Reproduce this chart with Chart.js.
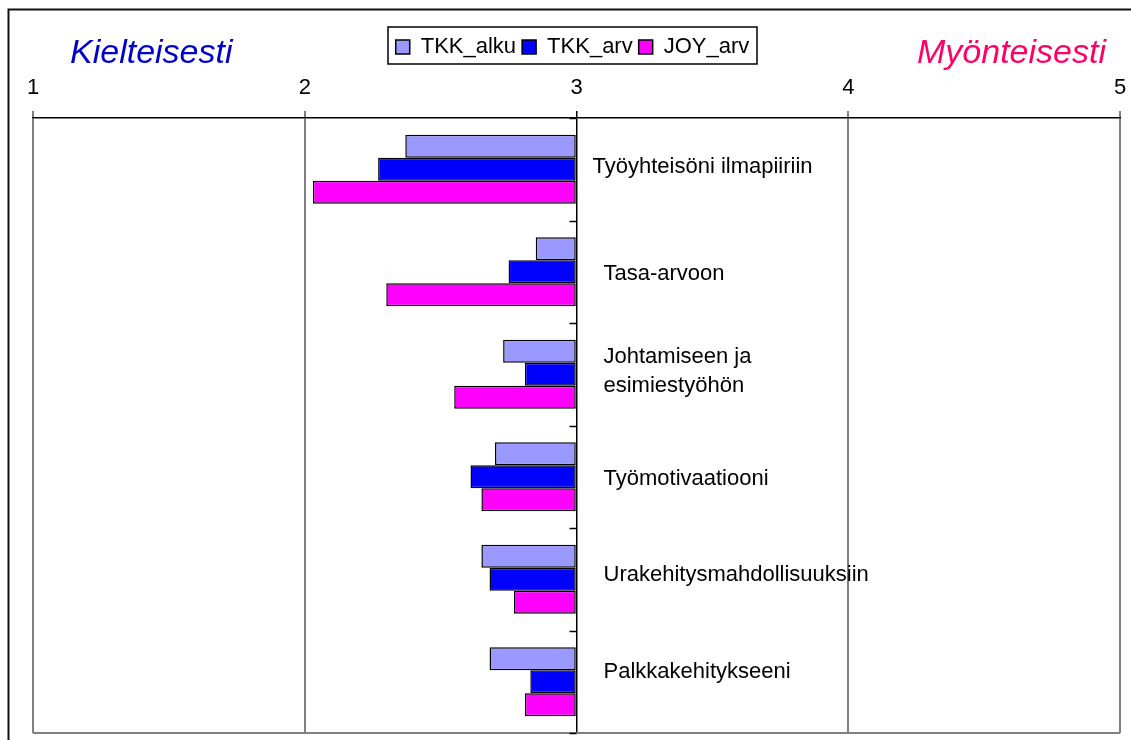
<!DOCTYPE html>
<html lang="fi">
<head>
<meta charset="utf-8">
<title>Muutos</title>
<script src="https://cdn.jsdelivr.net/npm/chart.js@4/dist/chart.umd.min.js"></script>
<style>
  html, body { margin: 0; padding: 0; background: #fff; }
  canvas { display: block; }
</style>
</head>
<body>
<canvas id="kaavio" width="1131" height="740"></canvas>
<script>
// kysymykset (kategoriat) ja vastausten keskiarvot
const kategoriat = [
  'Työyhteisöni ilmapiiriin',
  'Tasa-arvoon',
  ['Johtamiseen ja', 'esimiestyöhön'],
  'Työmotivaatiooni',
  'Urakehitysmahdollisuuksiin',
  'Palkkakehitykseeni',
];
const tkkAlku = [2.37, 2.85, 2.73, 2.70, 2.65, 2.68];
const tkkArv = [2.27, 2.75, 2.81, 2.61, 2.68, 2.83];
const joyArv = [2.03, 2.30, 2.55, 2.65, 2.77, 2.81];
const asteikko = [1, 2, 3, 4, 5];
const keskikohta = 3;

const FONTTI = '"Liberation Sans", Arial, sans-serif';
const SELITE_VALI = 6;
const YLA = 36 - SELITE_VALI;
// nimien pieni siirto pystysuunnassa (px)
const nimiSiirto = [-2.5, 2.5, -3, 2, -4, -10];

// otsikot, kategorioiden nimet, keskiviivan väkäset ja kehykset
const koristeet = {
  id: 'koristeet',
  afterUpdate(chart) {
    // selite vähän vasemmalle
    const legend = chart.legend;
    if (!legend) return;
    legend.left -= 4;
    legend.right -= 4;
    legend.legendHitBoxes.forEach((h) => { h.left -= 4; });
  },
  afterDatasetsDraw(chart) {
    const ctx = chart.ctx;
    const x = chart.scales.x;
    const y = chart.scales.y;
    const area = chart.chartArea;
    const x3 = x.getPixelForValue(keskikohta);
    const askel = y.getPixelForValue(1) - y.getPixelForValue(0);

    ctx.save();
    // alareuna
    ctx.strokeStyle = '#808080';
    ctx.lineWidth = 2;
    ctx.beginPath();
    ctx.moveTo(area.left, area.bottom);
    ctx.lineTo(area.right, area.bottom);
    ctx.stroke();

    // väkäset keskiviivaan
    ctx.strokeStyle = '#000';
    ctx.lineWidth = 1.5;
    for (let i = 0; i <= kategoriat.length; i++) {
      const yy = Math.round(y.getPixelForValue(0) + (i - 0.5) * askel) + 0.5;
      ctx.beginPath();
      ctx.moveTo(x3 - 7, yy);
      ctx.lineTo(x3, yy);
      ctx.stroke();
    }

    // kategorioiden nimet keskiviivan oikealle puolelle
    ctx.fillStyle = '#000';
    ctx.font = '22px ' + FONTTI;
    ctx.textAlign = 'left';
    ctx.textBaseline = 'middle';
    kategoriat.forEach((nimi, i) => {
      const rivit = Array.isArray(nimi) ? nimi : [nimi];
      const sisennys = i === 0 ? 16 : 27;
      const cy = y.getPixelForValue(i) + nimiSiirto[i];
      const rivikorkeus = 29;
      rivit.forEach((r, j) => {
        ctx.fillText(r, x3 + sisennys, cy + (j - (rivit.length - 1) / 2) * rivikorkeus);
      });
    });
    ctx.restore();
  },
  afterDraw(chart) {
    const ctx = chart.ctx;
    const legend = chart.legend;
    ctx.save();

    // selitteen kehys
    if (legend && legend.legendHitBoxes.length) {
      const laatikot = legend.legendHitBoxes;
      const viimeinen = laatikot[laatikot.length - 1];
      const vasen = laatikot[0].left - 8;
      const oikea = viimeinen.left + viimeinen.width + 7;
      const keski = laatikot[0].top + laatikot[0].height / 2;
      ctx.strokeStyle = '#000';
      ctx.lineWidth = 1.5;
      ctx.strokeRect(Math.round(vasen), Math.round(keski - 20), Math.round(oikea - vasen), 37);
    }

    // ääripäiden otsikot
    ctx.font = 'italic 34px ' + FONTTI;
    ctx.textBaseline = 'alphabetic';
    ctx.textAlign = 'left';
    ctx.fillStyle = '#0000CC';
    ctx.fillText('Kielteisesti', 70, 63);
    ctx.fillStyle = '#FF0066';
    ctx.fillText('Myönteisesti', 917, 63);

    // ulkokehys
    ctx.strokeStyle = '#111';
    ctx.lineWidth = 2;
    ctx.beginPath();
    ctx.moveTo(8.5, chart.height);
    ctx.lineTo(8.5, 9.5);
    ctx.lineTo(chart.width, 9.5);
    ctx.stroke();
    ctx.restore();
  },
};

function piirra() {
  const canvas = document.getElementById('kaavio');
  const sarja = (nimi, arvot, vari) => ({
    label: nimi,
    data: arvot,
    base: keskikohta,
    backgroundColor: vari,
    borderColor: '#000',
    borderWidth: 1.5,
    borderSkipped: false,
    categoryPercentage: 0.673,
    barPercentage: 1.0,
  });

  new Chart(canvas, {
    type: 'bar',
    data: {
      labels: kategoriat,
      datasets: [
        sarja('TKK_alku', tkkAlku, '#9999FF'),
        sarja('TKK_arv', tkkArv, '#0000FF'),
        sarja('JOY_arv', joyArv, '#FF00FF'),
      ],
    },
    options: {
      indexAxis: 'y',
      responsive: false,
      animation: false,
      layout: { padding: { top: YLA, left: 33, right: 11, bottom: 7 } },
      plugins: {
        legend: {
          position: 'top',
          labels: {
            font: { size: 22, family: FONTTI },
            color: '#000',
            boxWidth: 14,
            boxHeight: 14,
            padding: SELITE_VALI,
          },
        },
        tooltip: { enabled: false },
      },
      scales: {
        x: {
          position: 'top',
          min: asteikko[0],
          max: asteikko[asteikko.length - 1],
          afterBuildTicks(s) {
            s.ticks = asteikko.map((v) => ({ value: v }));
          },
          afterFit(s) {
            s.height = 118 - YLA - s.chart.legend.height;
            s.paddingLeft = 0;
            s.paddingRight = 0;
          },
          ticks: {
            font: { size: 22, family: FONTTI },
            color: '#000',
            padding: 10,
            maxRotation: 0,
          },
          grid: {
            color: (c) => (c.tick && c.tick.value === keskikohta ? '#000' : '#808080'),
            lineWidth: (c) => (c.tick && c.tick.value === keskikohta ? 1.5 : 2),
            tickLength: 7,
          },
          border: { color: '#000', width: 1.5 },
        },
        y: {
          display: false,
          offset: true,
        },
      },
    },
    plugins: [koristeet],
  });
}

document.addEventListener('DOMContentLoaded', piirra);
</script>
</body>
</html>
